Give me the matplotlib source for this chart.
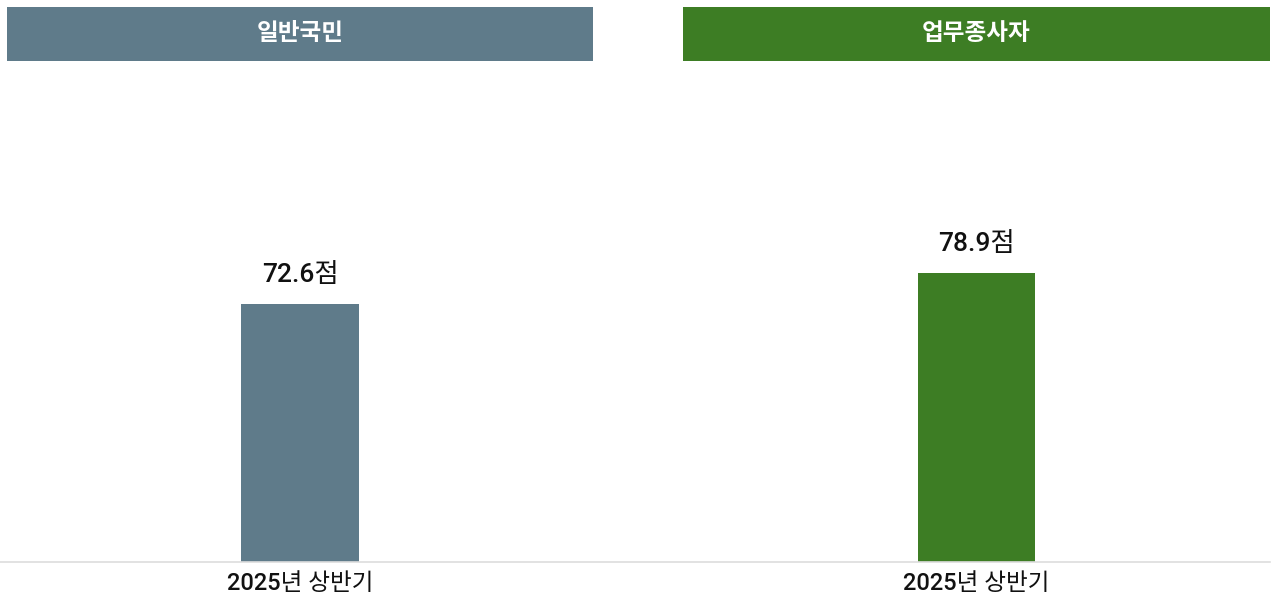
import matplotlib.pyplot as plt
from matplotlib.lines import Line2D

plt.rcParams['font.family'] = ['Roboto', 'Noto Sans CJK KR', 'DejaVu Sans']

groups = ['일반국민', '업무종사자']
periods = ['2025년 상반기']
values = [[72.6], [78.9]]
colors = ['#5f7b8a', '#3d7d24']
ylims = [130.0, 126.1]

W, H = 1273, 602
fig = plt.figure(figsize=(W / 100, H / 100), dpi=100)

panels = [(7, 593), (683, 1270)]
base_y = 562
top_y = 100

for i, (x0, x1) in enumerate(panels):
    # header strip
    hax = fig.add_axes([x0 / W, 1 - 61 / H, (x1 - x0) / W, 54 / H])
    hax.set_facecolor(colors[i])
    hax.set_xticks([])
    hax.set_yticks([])
    for s in hax.spines.values():
        s.set_visible(False)
    hax.text(0.5, 0.5, groups[i], color='white', fontsize=17, fontweight='bold',
             ha='center', va='center', transform=hax.transAxes)

    ax = fig.add_axes([x0 / W, 1 - base_y / H, (x1 - x0) / W, (base_y - top_y) / H])
    bars = ax.bar(periods, values[i], width=0.2, color=colors[i])
    ax.set_xlim(-0.5, 0.5)
    ax.set_ylim(0, ylims[i])
    for b, v in zip(bars, values[i]):
        ax.annotate(f'{v}점', (b.get_x() + b.get_width() / 2, v),
                    xytext=(0, 12), textcoords='offset points',
                    ha='center', va='bottom', fontsize=19, fontweight='medium',
                    color='#111111')
    ax.set_yticks([])
    ax.tick_params(axis='x', length=0, labelsize=17, pad=7, labelcolor='#111111')
    for lbl in ax.get_xticklabels():
        lbl.set_fontweight('medium')
    for s in ax.spines.values():
        s.set_visible(False)

fig.add_artist(Line2D([0, 1270 / W], [1 - base_y / H, 1 - base_y / H],
                      color='#dddddd', lw=1.2, transform=fig.transFigure))

fig.savefig('out.png', dpi=100, facecolor='white')
